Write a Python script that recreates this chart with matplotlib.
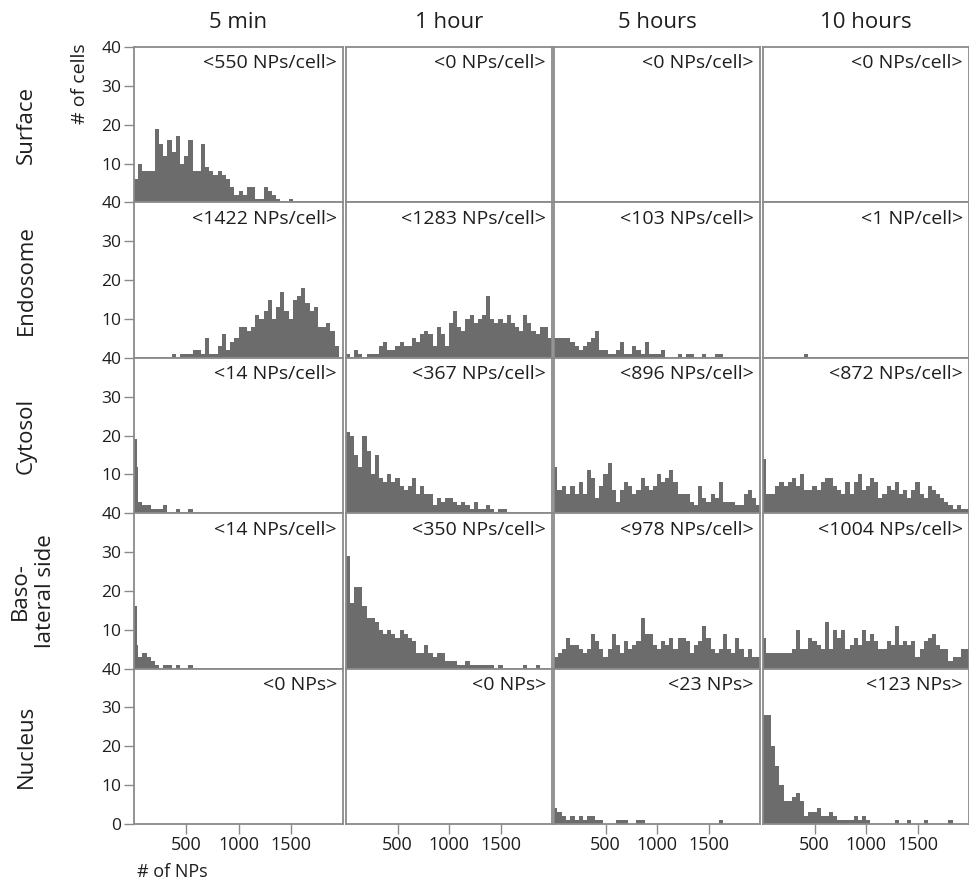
"""Per-cell NP counts by compartment and time point, as a 5x4 grid of histograms."""
import numpy as np
import matplotlib.pyplot as plt

plt.rcParams['font.family'] = ['Open Sans', 'DejaVu Sans']

times = ["5 min", "1 hour", "5 hours", "10 hours"]
compartments = ["Surface", "Endosome", "Cytosol", "Baso-\nlateral side", "Nucleus"]

# mean NPs per cell, printed in each panel
means = [
    ["<550 NPs/cell>", "<0 NPs/cell>", "<0 NPs/cell>", "<0 NPs/cell>"],
    ["<1422 NPs/cell>", "<1283 NPs/cell>", "<103 NPs/cell>", "<1 NP/cell>"],
    ["<14 NPs/cell>", "<367 NPs/cell>", "<896 NPs/cell>", "<872 NPs/cell>"],
    ["<14 NPs/cell>", "<350 NPs/cell>", "<978 NPs/cell>", "<1004 NPs/cell>"],
    ["<0 NPs>", "<0 NPs>", "<23 NPs>", "<123 NPs>"],
]

# histogram counts (# of cells), bins of 40 NPs from 0 to 2000; missing tail = 0
surface_5min = [6, 10, 8, 8, 8, 19, 15, 12, 16, 13, 17, 10, 12, 16, 8, 8, 15, 9, 8, 7,
                8, 7, 6, 4, 2, 3, 2, 4, 4, 1, 1, 4, 3, 2, 1, 0, 0, 1]
surface_1h = []
surface_5h = []
surface_10h = []

endosome_5min = [0, 0, 0, 0, 0, 0, 0, 0, 0, 1, 0, 1, 1, 1, 2, 2, 1, 5, 1, 1,
                 3, 6, 2, 4, 5, 8, 8, 7, 8, 11, 10, 12, 15, 10, 13, 17, 12, 10, 15, 16,
                 18, 14, 12, 13, 8, 8, 9, 7, 3, 0]
endosome_1h = [1, 0, 2, 1, 0, 1, 1, 1, 3, 4, 2, 2, 3, 4, 3, 3, 5, 4, 6, 7,
               6, 3, 8, 6, 3, 9, 12, 8, 7, 10, 11, 9, 10, 11, 16, 10, 9, 10, 9, 11,
               9, 8, 7, 11, 9, 7, 6, 8, 8, 5]
endosome_5h = [5, 5, 5, 5, 4, 3, 2, 3, 4, 5, 7, 2, 2, 1, 1, 2, 4, 1, 1, 3,
               2, 1, 4, 1, 1, 1, 2, 0, 0, 0, 1, 0, 1, 1, 0, 0, 1, 0, 0, 1, 1]
endosome_10h = [0, 0, 0, 0, 0, 0, 0, 0, 0, 0, 1]

cytosol_5min = [12, 3, 2, 2, 1, 1, 1, 2, 0, 0, 1, 0, 0, 1]
cytosol_1h = [21, 20, 15, 12, 20, 16, 10, 15, 9, 8, 10, 8, 9, 7, 6, 7, 9, 5, 7, 5,
              5, 2, 4, 3, 4, 4, 3, 2, 3, 2, 1, 3, 1, 1, 2, 1, 0, 1, 1]
cytosol_5h = [6, 6, 7, 5, 7, 5, 8, 5, 11, 9, 4, 7, 10, 13, 6, 3, 6, 8, 7, 5,
              6, 9, 7, 6, 7, 10, 8, 9, 11, 8, 5, 5, 5, 3, 2, 7, 4, 3, 5, 4,
              8, 3, 3, 3, 2, 2, 5, 6, 4, 2]
cytosol_10h = [5, 5, 5, 7, 8, 7, 8, 9, 7, 10, 6, 6, 7, 6, 8, 9, 9, 7, 6, 5,
               8, 5, 8, 10, 6, 7, 9, 8, 4, 5, 7, 6, 8, 5, 6, 4, 6, 8, 5, 4,
               7, 6, 5, 4, 3, 2, 1, 2, 1, 1]

baso_5min = [6, 3, 4, 3, 2, 1, 0, 1, 1, 0, 1, 0, 0, 1]
baso_1h = [29, 17, 21, 21, 16, 13, 13, 12, 10, 9, 10, 9, 8, 10, 9, 8, 7, 4, 4, 6,
           4, 3, 4, 4, 2, 2, 2, 1, 1, 2, 1, 1, 1, 1, 1, 1, 0, 1, 0, 0,
           0, 0, 0, 1, 0, 0, 1]
baso_5h = [3, 4, 5, 8, 6, 6, 5, 4, 5, 9, 7, 5, 3, 5, 9, 6, 4, 7, 5, 6,
           7, 13, 9, 9, 6, 5, 7, 6, 8, 5, 8, 8, 7, 4, 6, 7, 11, 8, 5, 4,
           5, 9, 5, 4, 8, 5, 3, 5, 3, 3]
baso_10h = [4, 4, 4, 4, 4, 4, 4, 5, 10, 5, 5, 8, 7, 6, 5, 12, 5, 10, 8, 10,
            5, 6, 8, 6, 10, 7, 9, 7, 5, 5, 7, 6, 11, 6, 7, 6, 7, 3, 5, 7,
            8, 9, 6, 5, 5, 2, 3, 3, 5, 5]

nucleus_5min = []
nucleus_1h = []
nucleus_5h = [3, 3, 2, 1, 2, 1, 2, 1, 2, 2, 1, 1, 0, 0, 0, 1, 1, 1, 0, 0,
              1, 1, 0, 0, 0, 0, 0, 0, 0, 0, 0, 0, 0, 0, 0, 0, 0, 0, 0, 0, 1]
nucleus_10h = [28, 28, 20, 15, 10, 6, 6, 7, 8, 6, 2, 3, 3, 4, 2, 2, 3, 2, 1, 1,
               1, 1, 2, 1, 2, 1, 0, 0, 0, 0, 0, 0, 1, 0, 0, 1, 0, 0, 0, 1,
               0, 0, 0, 0, 0, 1]

# thin first bar at the left edge (cells with almost no NPs)
zero_cells = [
    [0, 0, 0, 0],
    [0, 0, 0, 0],
    [19, 0, 12, 14],
    [16, 0, 0, 8],
    [0, 0, 4, 0],
]

counts = [
    [surface_5min, surface_1h, surface_5h, surface_10h],
    [endosome_5min, endosome_1h, endosome_5h, endosome_10h],
    [cytosol_5min, cytosol_1h, cytosol_5h, cytosol_10h],
    [baso_5min, baso_1h, baso_5h, baso_10h],
    [nucleus_5min, nucleus_1h, nucleus_5h, nucleus_10h],
]

BIN = 40
XMAX = 2000
edges = np.arange(0, XMAX + BIN, BIN)
n_bins = len(edges) - 1

BAR = "#6c6c6c"
FRAME = "#8a8a8a"
TXT = "#1e1e1e"

W, H = 969, 884
fig = plt.figure(figsize=(W / 100, H / 100), dpi=100)

col_left = [134, 346, 554, 763]
col_width = [209, 206, 206, 206]
row_top = 47
row_h = 155.4

for i in range(5):
    for j in range(4):
        x0, w = col_left[j], col_width[j]
        y0 = row_top + i * row_h
        ax = fig.add_axes([x0 / W, 1 - (y0 + row_h) / H, w / W, row_h / H])

        c = np.zeros(n_bins)
        c[:len(counts[i][j])] = counts[i][j]
        ax.bar(edges[:-1], c, width=BIN, align="edge", color=BAR, linewidth=0)
        if zero_cells[i][j]:
            ax.bar(0, zero_cells[i][j], width=28, align="edge", color=BAR, linewidth=0)

        ax.set_xlim(0, XMAX)
        ax.set_ylim(0, 40)
        for s in ax.spines.values():
            s.set_color(FRAME)
            s.set_linewidth(1.3)
        ax.tick_params(direction="out", length=7, width=1, color=FRAME,
                       labelcolor=TXT, pad=2)
        ax.tick_params(axis="y", labelsize=12.5)
        ax.tick_params(axis="x", labelsize=13)

        if j == 0:
            ax.set_yticks([0, 10, 20, 30, 40] if i == 4 else [10, 20, 30, 40])
        else:
            ax.set_yticks([])
        if i == 4:
            ax.set_xticks([500, 1000, 1500])
        else:
            ax.set_xticks([])

        ax.text(1 - 6 / w, 1 - 16.5 / row_h, means[i][j], transform=ax.transAxes,
                ha="right", va="center", fontsize=14, color=TXT)

for j, t in enumerate(times):
    cx = col_left[j] + col_width[j] / 2
    fig.text(cx / W, 1 - 23 / H, t, ha="center", va="center", fontsize=16, color=TXT)

for i, name in enumerate(compartments):
    cy = row_top + (i + 0.5) * row_h
    lx = 33 if "\n" in name else 26
    fig.text(lx / W, 1 - cy / H, name, rotation=90, ha="center", va="center",
             multialignment="center", fontsize=16, color=TXT, linespacing=1.25)

fig.text(80 / W, 1 - 84 / H, "# of cells", rotation=90, ha="center", va="center",
         fontsize=14, color=TXT)
fig.text(137 / W, 1 - 872 / H, "# of NPs", ha="left", va="center", fontsize=13, color=TXT)

fig.savefig("out.png", dpi=100)
